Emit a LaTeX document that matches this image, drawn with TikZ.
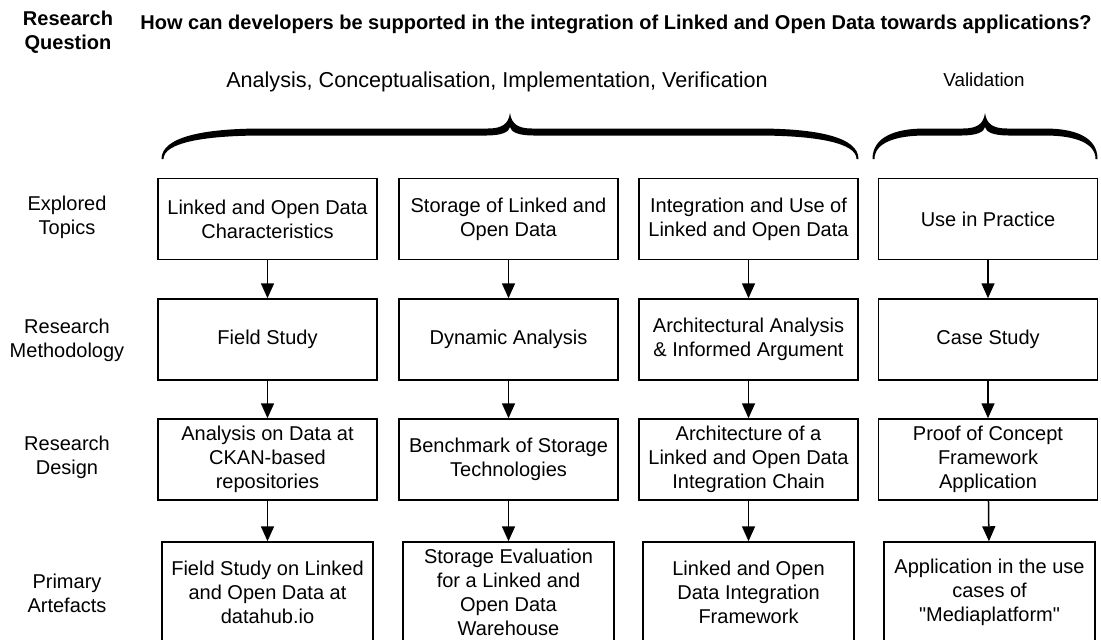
\documentclass[tikz,border=0pt]{standalone}
\usepackage{fontspec}
\setmainfont{Liberation Sans}
\usetikzlibrary{arrows.meta}

\begin{document}
\begin{tikzpicture}[
  x=0.5pt, y=-0.5pt,
  box/.style={draw, line width=0.75pt, align=center, minimum width=109.5pt, minimum height=40.5pt, inner sep=0pt, font=\fontsize{10}{12}\selectfont},
  lowbox/.style={box, minimum width=105.5pt, minimum height=50pt},
  rowlabel/.style={align=center, font=\fontsize{10}{12}\selectfont},
  arrow/.style={-{Triangle[width=6.5pt,length=7.5pt]}, line width=0.75pt}
]
\useasboundingbox (0,0) rectangle (1101,639);

\node[rowlabel, font=\fontsize{10}{12}\selectfont\bfseries] (qlabel) at (68,32) {Research\\Question};
\node[anchor=west, inner sep=0pt, font=\fontsize{10}{12}\selectfont\bfseries] (question) at (140,24) {How can developers be supported in the integration of Linked and Open Data towards applications?};

\node[font=\fontsize{10.8}{13}\selectfont] (phases) at (497,82) {Analysis, Conceptualisation, Implementation, Verification};
\node[font=\fontsize{9.4}{11}\selectfont] (valid) at (984,80) {Validation};

% braces
\fill (161.5,159) .. controls (161.5,137) and (203,128.5) .. (263,128.5) -- (488,128.5)
  .. controls (502,128.5) and (508.5,124) .. (510,113) .. controls (511.5,124) and (518,128.5) .. (532,128.5)
  -- (757,128.5) .. controls (817,128.5) and (858.5,137) .. (858.5,159) -- (856.5,159)
  .. controls (856.5,143) and (817,135.5) .. (757,135.5) -- (534,135.5)
  .. controls (518,135.5) and (511,132) .. (510,127) .. controls (509,132) and (502,135.5) .. (486,135.5)
  -- (263,135.5) .. controls (203,135.5) and (163.5,143) .. (163.5,159) -- cycle;
\fill (872.5,159) .. controls (872.5,137) and (895,128.5) .. (925,128.5) -- (963,128.5)
  .. controls (977,128.5) and (983.5,124) .. (985,113) .. controls (986.5,124) and (993,128.5) .. (1007,128.5)
  -- (1045,128.5) .. controls (1075,128.5) and (1097.5,137) .. (1097.5,159) -- (1095.5,159)
  .. controls (1095.5,143) and (1075,135.5) .. (1045,135.5) -- (1009,135.5)
  .. controls (993,135.5) and (986,132) .. (985,127) .. controls (984,132) and (977,135.5) .. (961,135.5)
  -- (925,135.5) .. controls (895,135.5) and (874.5,143) .. (874.5,159) -- cycle;

\node[rowlabel] (ltopics) at (67,217) {Explored\\Topics};
\node[rowlabel] (lmethod) at (67,340) {Research\\Methodology};
\node[rowlabel] (ldesign) at (67,457) {Research\\Design};
\node[rowlabel] (lartef) at (67,593) {Primary\\Artefacts};

\node[box] (charact) at (267.5,219) {Linked and Open Data\\Characteristics};
\node[box] (storage) at (508.5,219) {Storage of Linked and\\Open Data};
\node[box] (integr) at (748.5,219) {Integration and Use of\\Linked and Open Data};
\node[box] (practice) at (988,219) {Use in Practice};

\node[box] (fieldstudy) at (267.5,339.5) {Field Study};
\node[box] (dynamic) at (508.5,339.5) {Dynamic Analysis};
\node[box] (archana) at (748.5,339.5) {Architectural Analysis\\\& Informed Argument};
\node[box] (casestudy) at (988,339.5) {Case Study};

\node[box] (ckan) at (267.5,459.5) {Analysis on Data at\\CKAN-based\\repositories};
\node[box] (benchmark) at (508.5,459.5) {Benchmark of Storage\\Technologies};
\node[box] (chain) at (748.5,459.5) {Architecture of a\\Linked and Open Data\\Integration Chain};
\node[box] (poc) at (988,459.5) {Proof of Concept\\Framework\\Application};

\node[lowbox] (datahub) at (267.5,592) {Field Study on Linked\\and Open Data at\\datahub.io};
\node[lowbox] (warehouse) at (508.5,592) {Storage Evaluation\\for a Linked and\\Open Data\\Warehouse};
\node[lowbox] (framework) at (748.5,592) {Linked and Open\\Data Integration\\Framework};
\node[lowbox] (mediapf) at (989.5,592) {Application in the use\\cases of\\\textquotedbl Mediaplatform\textquotedbl};

\draw[arrow] (charact) -- (fieldstudy);
\draw[arrow] (storage) -- (dynamic);
\draw[arrow] (integr) -- (archana);
\draw[arrow] (practice) -- (casestudy);
\draw[arrow] (fieldstudy) -- (ckan);
\draw[arrow] (dynamic) -- (benchmark);
\draw[arrow] (archana) -- (chain);
\draw[arrow] (casestudy) -- (poc);
\draw[arrow] (ckan) -- (datahub);
\draw[arrow] (benchmark) -- (warehouse);
\draw[arrow] (chain) -- (framework);
\draw[arrow] (poc) -- (mediapf);
\end{tikzpicture}
\end{document}
